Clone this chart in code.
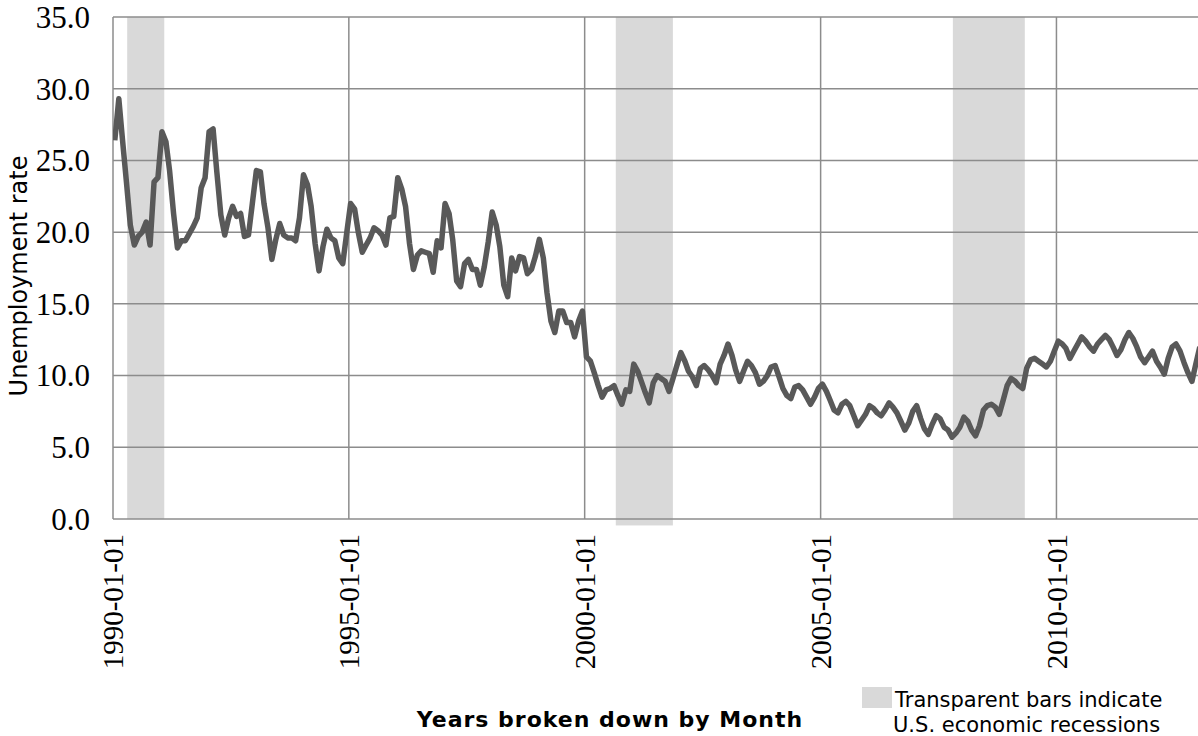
<!DOCTYPE html>
<html>
<head>
<meta charset="utf-8">
<script src="https://cdn.jsdelivr.net/npm/d3@7"></script>
<style>
  body { margin: 0; background: #fff; }
  svg { display: block; }
</style>
</head>
<body>
<div id="chart"></div>
<script>
// monthly unemployment rate
const rate1990 = [26.4, 29.3, 26.5, 23.5, 20.5, 19.1, 19.7, 20.0, 20.7, 19.1, 23.5, 23.8];
const rate1991 = [27.0, 26.3, 24.3, 21.3, 18.9, 19.4, 19.4, 19.9, 20.4, 21.0, 23.1, 23.8];
const rate1992 = [27.0, 27.2, 24.2, 21.2, 19.8, 21.0, 21.8, 21.1, 21.3, 19.7, 19.8, 22.0];
const rate1993 = [24.3, 24.2, 22.0, 20.3, 18.1, 19.5, 20.6, 19.8, 19.6, 19.6, 19.4, 21.0];
const rate1994 = [24.0, 23.3, 21.8, 19.2, 17.3, 19.0, 20.2, 19.6, 19.4, 18.2, 17.8, 19.9];
const rate1995 = [22.0, 21.6, 20.0, 18.6, 19.1, 19.6, 20.3, 20.1, 19.8, 19.1, 21.0, 21.1];
const rate1996 = [23.8, 23.0, 21.8, 19.2, 17.4, 18.4, 18.7, 18.6, 18.5, 17.2, 19.4, 18.9];
const rate1997 = [22.0, 21.3, 19.5, 16.6, 16.2, 17.8, 18.1, 17.4, 17.4, 16.3, 17.6, 19.3];
const rate1998 = [21.4, 20.5, 19.0, 16.3, 15.5, 18.2, 17.3, 18.3, 18.2, 17.1, 17.4, 18.3];
const rate1999 = [19.5, 18.2, 15.8, 13.8, 13.0, 14.5, 14.5, 13.7, 13.7, 12.7, 13.8, 14.5];
const rate2000 = [11.3, 11.0, 10.2, 9.3, 8.5, 9.0, 9.1, 9.3, 8.6, 8.0, 9.0, 8.9];
const rate2001 = [10.8, 10.3, 9.6, 8.8, 8.1, 9.5, 10.0, 9.8, 9.6, 8.9, 9.8, 10.7];
const rate2002 = [11.6, 11.0, 10.3, 9.9, 9.3, 10.5, 10.7, 10.4, 10.0, 9.5, 10.8, 11.4];
const rate2003 = [12.2, 11.4, 10.4, 9.6, 10.3, 11.0, 10.7, 10.2, 9.4, 9.6, 10.0, 10.6];
const rate2004 = [10.7, 9.9, 9.1, 8.6, 8.4, 9.2, 9.3, 9.0, 8.5, 8.0, 8.5, 9.1];
const rate2005 = [9.4, 8.9, 8.3, 7.6, 7.4, 8.0, 8.2, 7.9, 7.2, 6.5, 6.9, 7.3];
const rate2006 = [7.9, 7.7, 7.4, 7.2, 7.6, 8.1, 7.8, 7.4, 6.8, 6.2, 6.7, 7.5];
const rate2007 = [7.9, 7.0, 6.3, 5.9, 6.6, 7.2, 7.0, 6.4, 6.2, 5.7, 6.0, 6.4];
const rate2008 = [7.1, 6.8, 6.2, 5.8, 6.5, 7.6, 7.9, 8.0, 7.8, 7.3, 8.3, 9.3];
const rate2009 = [9.8, 9.6, 9.3, 9.1, 10.5, 11.1, 11.2, 11.0, 10.8, 10.6, 11.0, 11.7];
const rate2010 = [12.4, 12.2, 11.9, 11.2, 11.7, 12.2, 12.7, 12.4, 12.0, 11.7, 12.2, 12.5];
const rate2011 = [12.8, 12.5, 12.0, 11.4, 11.8, 12.5, 13.0, 12.6, 12.0, 11.3, 10.9, 11.3];
const rate2012 = [11.7, 11.0, 10.6, 10.1, 11.2, 12.0, 12.2, 11.7, 10.9, 10.2, 9.6, 10.8];
const rate2013 = [12.0];

// shaded recession periods [start, end, bottom value]
const recessions = [
  ["1990-04-21", "1991-02-02", 0],
  ["2000-08-29", "2001-11-14", -0.45],
  ["2007-10-22", "2009-05-01", 0],
];

const yTicks = [0, 5, 10, 15, 20, 25, 30, 35];
const xTicks = ["1990-01-01", "1995-01-01", "2000-01-01", "2005-01-01", "2010-01-01"];

const width = 1198,
  height = 736;
const margin = { top: 17, right: 0, bottom: 217, left: 113 };

const rates = [].concat(
  rate1990, rate1991, rate1992, rate1993, rate1994, rate1995, rate1996,
  rate1997, rate1998, rate1999, rate2000, rate2001, rate2002, rate2003,
  rate2004, rate2005, rate2006, rate2007, rate2008, rate2009, rate2010,
  rate2011, rate2012, rate2013
);
const data = rates.map((v, i) => ({
  date: new Date(Date.UTC(1990, i, 15)),
  value: v,
}));

const parse = d3.utcParse("%Y-%m-%d");

const x = d3
  .scaleUtc()
  .domain([parse("1990-01-01"), parse("2013-01-01")])
  .range([margin.left, width - margin.right]);

const y = d3
  .scaleLinear()
  .domain([0, 35])
  .range([height - margin.bottom, margin.top]);

const svg = d3
  .select("#chart")
  .append("svg")
  .attr("width", width)
  .attr("height", height);

svg
  .append("defs")
  .append("clipPath")
  .attr("id", "plot-clip")
  .append("rect")
  .attr("x", margin.left)
  .attr("y", 0)
  .attr("width", width - margin.left - margin.right)
  .attr("height", height);

// recession bars
svg
  .append("g")
  .selectAll("rect")
  .data(recessions)
  .join("rect")
  .attr("x", (d) => x(parse(d[0])))
  .attr("width", (d) => x(parse(d[1])) - x(parse(d[0])))
  .attr("y", y(35))
  .attr("height", (d) => y(d[2]) - y(35))
  .attr("fill", "#d9d9d9");

// grid
const grid = svg.append("g").attr("stroke", "#8c8c8c").attr("stroke-width", 1.5);

grid
  .selectAll("line.h")
  .data(yTicks)
  .join("line")
  .attr("class", "h")
  .attr("x1", margin.left)
  .attr("x2", width - margin.right)
  .attr("y1", (d) => y(d))
  .attr("y2", (d) => y(d));

grid
  .selectAll("line.v")
  .data(xTicks)
  .join("line")
  .attr("class", "v")
  .attr("x1", (d) => x(parse(d)))
  .attr("x2", (d) => x(parse(d)))
  .attr("y1", y(35))
  .attr("y2", y(0));

// y labels
svg
  .append("g")
  .selectAll("text")
  .data(yTicks)
  .join("text")
  .attr("x", 90)
  .attr("y", (d) => y(d))
  .attr("dy", "0.35em")
  .attr("text-anchor", "end")
  .attr("font-family", "'Liberation Serif', 'Times New Roman', serif")
  .attr("font-size", 31)
  .attr("fill", "#000")
  .text((d) => d.toFixed(1));

// x labels, rotated
svg
  .append("g")
  .selectAll("text")
  .data(xTicks)
  .join("text")
  .attr("transform", (d) => `translate(${x(parse(d))},${y(0) + 15}) rotate(-90)`)
  .attr("dy", "0.35em")
  .attr("text-anchor", "end")
  .attr("font-family", "'Liberation Serif', 'Times New Roman', serif")
  .attr("font-size", 29)
  .attr("fill", "#000")
  .text((d) => d);

// the series
const line = d3
  .line()
  .x((d) => x(d.date))
  .y((d) => y(d.value));

svg
  .append("path")
  .datum(data)
  .attr("clip-path", "url(#plot-clip)")
  .attr("fill", "none")
  .attr("stroke", "#595959")
  .attr("stroke-width", 5.5)
  .attr("stroke-linejoin", "round")
  .attr("d", line);

// axis titles
svg
  .append("text")
  .attr("transform", `translate(27,276) rotate(-90)`)
  .attr("text-anchor", "middle")
  .attr("font-family", "'DejaVu Sans', Verdana, sans-serif")
  .attr("font-size", 24)
  .attr("fill", "#000")
  .text("Unemployment rate");

svg
  .append("text")
  .attr("x", 610)
  .attr("y", 727)
  .attr("text-anchor", "middle")
  .attr("font-family", "'DejaVu Sans', Verdana, sans-serif")
  .attr("font-weight", "bold")
  .attr("font-size", 22)
  .attr("letter-spacing", 1)
  .attr("fill", "#000")
  .text("Years broken down by Month");

// legend note
const legend = svg.append("g");
legend
  .append("rect")
  .attr("x", 862)
  .attr("y", 687)
  .attr("width", 30)
  .attr("height", 21)
  .attr("fill", "#d9d9d9");
legend
  .append("text")
  .attr("x", 895)
  .attr("y", 707)
  .attr("font-family", "'DejaVu Sans', Verdana, sans-serif")
  .attr("font-size", 21)
  .attr("fill", "#000")
  .text("Transparent bars indicate");
legend
  .append("text")
  .attr("x", 893)
  .attr("y", 732)
  .attr("font-family", "'DejaVu Sans', Verdana, sans-serif")
  .attr("font-size", 21)
  .attr("fill", "#000")
  .text("U.S. economic recessions");
</script>
</body>
</html>
